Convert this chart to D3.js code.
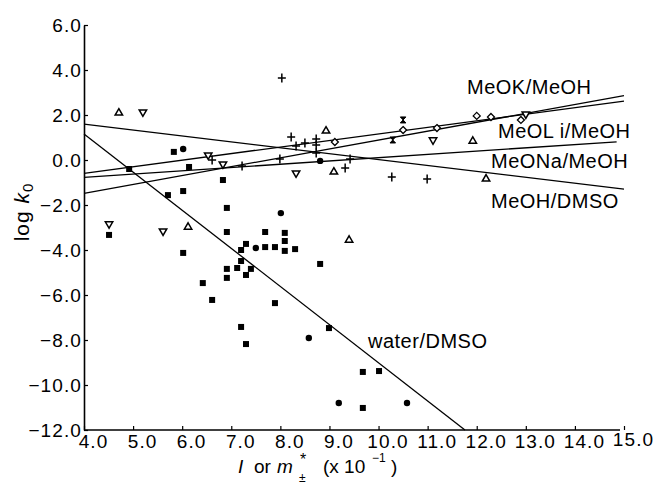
<!DOCTYPE html>
<html><head><meta charset="utf-8">
<script src="https://cdn.jsdelivr.net/npm/d3@7"></script>
<style>
html,body{margin:0;padding:0;background:#fff;}
svg{display:block;font-family:"Liberation Sans",Arial,Helvetica,sans-serif;}
</style></head>
<body>
<svg id="c" width="654" height="486"></svg>
<script>
// ---- data ----
const xTicks = [4,5,6,7,8,9,10,11,12,13,14,15];
const yTicks = [6,4,2,0,-2,-4,-6,-8,-10,-12];

const fitNames = ["MeOK/MeOH","MeOL i/MeOH","MeONa/MeOH","MeOH/DMSO","water/DMSO"];
const fitX0 = [4, 4, 4, 4, 4];
const fitY0 = [-1.48, -0.59, -0.77, 1.59, 1.16];
const fitX1 = [15, 15, 14.85, 15, 11.76];
const fitY1 = [2.86, 2.62, 0.81, -1.29, -12];

const squarePts = [[5.83,0.36],[4.92,-0.40],[6.14,-0.31],[5.71,-1.56],[6.02,-1.38],[6.83,-0.89],
 [6.91,-2.13],[6.91,-3.2],[7.69,-3.2],[8.09,-3.24],[8.09,-3.6],[4.51,-3.33],[6.02,-4.13],
 [7.30,-3.73],[7.20,-4.0],[7.69,-3.87],[7.89,-3.87],[8.09,-4.04],[8.30,-3.96],[8.81,-4.62],
 [7.20,-4.49],[6.91,-4.84],[7.12,-4.8],[7.40,-4.84],[7.30,-5.11],[6.91,-5.24],[6.42,-5.47],
 [6.61,-6.22],[7.89,-6.36],[7.20,-7.42],[7.30,-8.18],[8.99,-7.47],[9.68,-9.42],[10.01,-9.38],
 [9.68,-11.02]];
const circlePts = [[6.02,0.49],[8.01,-2.36],[7.50,-3.91],[8.58,-7.91],[9.19,-10.8],[10.58,-10.8],[8.81,-0.04]];
const plusPts = [[8.03,3.64],[6.61,0.0],[7.22,-0.27],[7.99,0.04],[8.22,1.02],[8.32,0.62],[8.50,0.76],
 [8.73,0.93],[8.73,0.67],[8.73,0.31],[9.42,0.04],[9.32,-0.36],[10.27,-0.76],[10.99,-0.84]];
const triUpPts = [[4.71,2.09],[6.12,-2.98],[8.93,1.29],[9.09,-0.53],[9.40,-3.56],[11.92,0.84],[12.19,-0.84]];
const triDownPts = [[5.20,2.13],[4.51,-2.84],[5.61,-3.16],[6.53,0.22],[6.83,-0.18],[8.32,-0.58],[11.11,0.89],[13.0,2.04]];
const diamondPts = [[9.11,0.80],[10.50,1.33],[11.19,1.42],[12.0,1.96],[12.29,1.91],[12.90,1.78]];
const hourglassPts = [[10.50,1.78],[10.29,0.89]];

// ---- chart ----
const svg = d3.select("#c");
const x = d3.scaleLinear().domain([4,15]).range([84,624]);
const y = d3.scaleLinear().domain([-12,6]).range([430,25]);
const fmt = d3.format(".1f");
const fontSize = 19;

// axes
const gx = svg.append("g").attr("transform","translate(0,430)")
  .call(d3.axisBottom(x).tickValues(xTicks).tickFormat(fmt).tickSizeInner(-4).tickSizeOuter(0));
gx.select(".domain").attr("d","M84,0H620").attr("stroke","#000").attr("stroke-width",1.6);
gx.selectAll(".tick line").attr("stroke-width",1.2);
gx.selectAll(".tick text").attr("font-size",fontSize).attr("font-family",null)
  .attr("fill","#000").attr("dx",9).attr("y",5).attr("dy","0.71em").attr("letter-spacing","1.1px")
  .filter(d=>d===15).attr("y",2);

const gy = svg.append("g").attr("transform","translate(84,0)")
  .call(d3.axisLeft(y).tickValues(yTicks).tickFormat(fmt).tickSizeInner(-4).tickSizeOuter(0));
gy.select(".domain").attr("stroke","#000").attr("stroke-width",1.6);
gy.selectAll(".tick line").attr("stroke-width",1.2);
gy.selectAll(".tick text").attr("font-size",fontSize).attr("font-family",null)
  .attr("fill","#000").attr("x",-2).attr("dy","0.36em").attr("letter-spacing","1.1px");

// fit lines
const fits = fitNames.map((n,i)=>({name:n,x0:fitX0[i],y0:fitY0[i],x1:fitX1[i],y1:fitY1[i]}));
svg.append("g").selectAll("line").data(fits).join("line")
  .attr("x1",d=>x(d.x0)).attr("y1",d=>y(d.y0)).attr("x2",d=>x(d.x1)).attr("y2",d=>y(d.y1))
  .attr("stroke","#000").attr("stroke-width",1.3);

// markers
const mk = svg.append("g");
mk.selectAll(".sq").data(squarePts).join("rect").attr("class","sq")
  .attr("x",d=>x(d[0])-3).attr("y",d=>y(d[1])-3).attr("width",6).attr("height",6).attr("fill","#000");
mk.selectAll(".ci").data(circlePts).join("circle").attr("class","ci")
  .attr("cx",d=>x(d[0])).attr("cy",d=>y(d[1])).attr("r",3.2).attr("fill","#000");
mk.selectAll(".pl").data(plusPts).join("path").attr("class","pl")
  .attr("transform",d=>`translate(${x(d[0])},${y(d[1])})`)
  .attr("d","M-4,0H4M0,-4.5V4.5").attr("stroke","#000").attr("stroke-width",1.5).attr("fill","none");
const tri = d3.symbol().type(d3.symbolTriangle).size(24);
mk.selectAll(".tu").data(triUpPts).join("path").attr("class","tu")
  .attr("transform",d=>`translate(${x(d[0])},${y(d[1])})`)
  .attr("d",tri).attr("stroke","#000").attr("stroke-width",1.5).attr("fill","#fff");
mk.selectAll(".td").data(triDownPts).join("path").attr("class","td")
  .attr("transform",d=>`translate(${x(d[0])},${y(d[1])}) rotate(180)`)
  .attr("d",tri).attr("stroke","#000").attr("stroke-width",1.5).attr("fill","#fff");
mk.selectAll(".di").data(diamondPts).join("path").attr("class","di")
  .attr("transform",d=>`translate(${x(d[0])},${y(d[1])})`)
  .attr("d","M0,-3.5L3.5,0L0,3.5L-3.5,0Z").attr("stroke","#000").attr("stroke-width",1.3).attr("fill","#fff");
mk.selectAll(".hg").data(hourglassPts).join("path").attr("class","hg")
  .attr("transform",d=>`translate(${x(d[0])},${y(d[1])})`)
  .attr("d","M-2.8,-3H2.8L-2.8,3H2.8Z").attr("stroke","#000").attr("stroke-width",1).attr("fill","#000");

// line labels
const labelPos = [[467,94],[498,138],[491,168],[491,208],[368,348]];
svg.append("g").selectAll("text").data(fitNames).join("text")
  .attr("x",(d,i)=>labelPos[i][0]).attr("y",(d,i)=>labelPos[i][1])
  .attr("font-size",20).attr("letter-spacing","0.5px").attr("fill","#000").text(d=>d);

// y title
const yt = svg.append("text").attr("transform","translate(29,212) rotate(-90)")
  .attr("text-anchor","middle").attr("font-size",21).attr("letter-spacing","1px").attr("fill","#000");
yt.append("tspan").text("log ");
yt.append("tspan").attr("font-style","italic").text("k");
yt.append("tspan").attr("font-size",15).attr("dy",4).text("0");

// x title
const xt = svg.append("g").attr("fill","#000");
xt.append("text").attr("x",238).attr("y",473).attr("font-size",19).attr("font-style","italic").text("I");
xt.append("text").attr("x",254).attr("y",473).attr("font-size",19).text("or");
xt.append("text").attr("x",277).attr("y",473).attr("font-size",19).attr("font-style","italic").text("m");
xt.append("text").attr("x",300).attr("y",465).attr("font-size",16).text("*");
xt.append("text").attr("x",299).attr("y",482).attr("font-size",12).text("±");
xt.append("text").attr("x",323).attr("y",473).attr("font-size",19).text("(x 10");
xt.append("text").attr("x",372).attr("y",462).attr("font-size",12).text("−1");
xt.append("text").attr("x",391).attr("y",473).attr("font-size",19).text(")");
</script>
</body></html>
